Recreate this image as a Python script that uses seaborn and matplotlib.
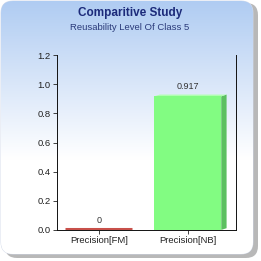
import numpy as np
import pandas as pd
import seaborn as sns
import matplotlib.pyplot as plt
from matplotlib.patches import FancyBboxPatch, Polygon

categories = ["Precision[FM]", "Precision[NB]"]
values = [0.0, 0.917]
value_labels = ["0", "0.917"]
bar_colors = ["#c8504a", "#82fc82"]
side_colors = ["#a03a36", "#5cc060"]
yticks = [0.0, 0.2, 0.4, 0.6, 0.8, 1.0, 1.2]

df = pd.DataFrame({"Category": categories, "Value": values})

sns.set_theme(style="white")
plt.rcParams["font.family"] = ["Liberation Sans", "DejaVu Sans"]

fig = plt.figure(figsize=(2.61, 2.61), dpi=100)
fig.patch.set_facecolor("white")

# panel background: shadow + gradient rounded box
bg = fig.add_axes([0, 0, 1, 1], zorder=0)
bg.set_xlim(0, 261)
bg.set_ylim(0, 261)
bg.axis("off")
shadow = FancyBboxPatch((5, 3), 253, 255, boxstyle="round,pad=0,rounding_size=12",
                        facecolor="#8a8a8a", edgecolor="none", alpha=0.6)
bg.add_patch(shadow)
panel = FancyBboxPatch((1, 7), 252, 253, boxstyle="round,pad=0,rounding_size=12",
                       facecolor="white", edgecolor="#d0d8e8", linewidth=0.6)
bg.add_patch(panel)
grad = np.linspace(0, 1, 256).reshape(-1, 1)
top = np.array([0.69, 0.80, 0.95])
bot = np.array([1.0, 1.0, 1.0])
t = np.clip(grad * 1.6, 0, 1)
img = top + (bot - top) * t
im = bg.imshow(img.reshape(256, 1, 3), extent=(1, 253, 7, 260), aspect="auto",
               origin="upper", zorder=1)
im.set_clip_path(panel)

bg.text(130, 248, "Comparitive Study", ha="center", va="center",
        fontsize=8.5, fontweight="bold", color="#1c2a7a")
bg.text(130, 234, "Reusability Level Of Class 5", ha="center", va="center",
        fontsize=6.8, color="#2a3a7a")

ax = fig.add_axes([0.218, 0.119, 0.686, 0.670], zorder=2)
ax.patch.set_alpha(0)
sns.barplot(data=df, x="Category", y="Value", hue="Category",
            palette=bar_colors, saturation=1, width=0.75, legend=False,
            linewidth=0, ax=ax, zorder=3)

for p, v, lab, side, col in zip(ax.patches, values, value_labels, side_colors, bar_colors):
    x0 = p.get_x()
    w = p.get_width()
    h = p.get_height()
    dx, dy = 0.06, 0.012
    if h > 0:
        poly = Polygon([(x0 + w, 0), (x0 + w + dx, dy), (x0 + w + dx, h + dy), (x0 + w, h)],
                       closed=True, facecolor=side, edgecolor="none", zorder=2)
        ax.add_patch(poly)
        topf = Polygon([(x0, h), (x0 + dx, h + dy), (x0 + w + dx, h + dy), (x0 + w, h)],
                       closed=True, facecolor="#b0ffb0", edgecolor="none", zorder=2)
        ax.add_patch(topf)
    else:
        ax.plot([x0, x0 + w], [0.008, 0.008], color=col, lw=2.2,
                solid_capstyle="butt", zorder=4)
    ax.text(x0 + w / 2, h + 0.035, lab, ha="center", va="bottom",
            fontsize=6.5, color="#333333")

ax.set_xlim(-0.47, 1.54)
ax.set_ylim(0, 1.2)
ax.set_yticks(yticks)
ax.set_yticklabels([f"{y:.1f}" for y in yticks])
ax.set_xlabel("")
ax.set_ylabel("")
ax.tick_params(axis="both", labelsize=6.8, colors="#222222", length=3, width=0.6,
               direction="out", pad=1.5, left=True, bottom=True)
for s in ["left", "bottom", "right"]:
    ax.spines[s].set_visible(True)
    ax.spines[s].set_color("#111111")
    ax.spines[s].set_linewidth(0.7)
ax.spines["top"].set_visible(False)
ax.grid(False)

fig.savefig("out.png", dpi=100)
